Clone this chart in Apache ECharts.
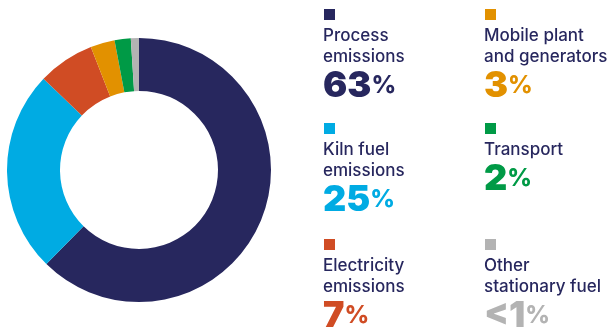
<!DOCTYPE html>
<html>
<head>
<meta charset="utf-8">
<script src="https://cdn.jsdelivr.net/npm/echarts@6/dist/echarts.min.js"></script>
<style>
  html, body { margin: 0; padding: 0; background: #fff; }
  #chart { width: 614px; height: 336px; }
</style>
</head>
<body>
<div id="chart"></div>
<script>
// emission sources, clockwise from 12 o'clock
const categories = [
  "Process\nemissions",
  "Kiln fuel\nemissions",
  "Electricity\nemissions",
  "Mobile plant\nand generators",
  "Transport",
  "Other\nstationary fuel",
];
const shares = [63, 25, 7, 3, 2, 1];
const shareLabels = ["63", "25", "7", "3", "2", "<1"];
const colors = ["#27275e", "#00abe3", "#d04c24", "#e29100", "#009a46", "#b3b3b3"];

// legend order on the right: [column, row] for each category
const legendSlots = [[0, 0], [0, 1], [0, 2], [1, 0], [1, 1], [1, 2]];
const colX = [324, 485];
const rowY = [9, 123, 239];

const font = "Inter, 'Open Sans', sans-serif";

const legendItems = categories.map((name, i) => {
  const [c, r] = legendSlots[i];
  const lines = name.split("\n").length;
  const x = colX[c];
  const y = rowY[r];
  return {
    type: "group",
    children: [
      {
        type: "rect",
        shape: { x: x, y: y, width: 11, height: 11 },
        style: { fill: colors[i] },
      },
      {
        type: "text",
        style: {
          x: x - 1,
          y: y + 16,
          text: name,
          fill: "#27275e",
          font: "500 17px " + font,
          lineHeight: 21,
          textVerticalAlign: "top",
        },
      },
      {
        type: "text",
        style: {
          x: x - 1,
          y: y + 16 + lines * 21,
          text: "{n|" + shareLabels[i] + "}{p|%}",
          textVerticalAlign: "top",
          rich: {
            n: { fill: colors[i], font: "900 36px " + font, lineHeight: 38 },
            p: {
              fill: colors[i],
              font: "800 24px " + font,
              lineHeight: 24,
              verticalAlign: "bottom",
              padding: [0, 0, 7, 0],
            },
          },
        },
      },
    ],
  };
});

const chart = echarts.init(document.getElementById("chart"));
chart.setOption({
  animation: false,
  graphic: legendItems,
  series: [
    {
      type: "pie",
      center: [139, 170],
      radius: [79, 132],
      startAngle: 90,
      clockwise: true,
      silent: true,
      label: { show: false },
      labelLine: { show: false },
      itemStyle: { borderWidth: 0 },
      data: categories.map((name, i) => ({
        name: name,
        value: shares[i],
        itemStyle: { color: colors[i] },
      })),
    },
  ],
});
</script>
</body>
</html>
